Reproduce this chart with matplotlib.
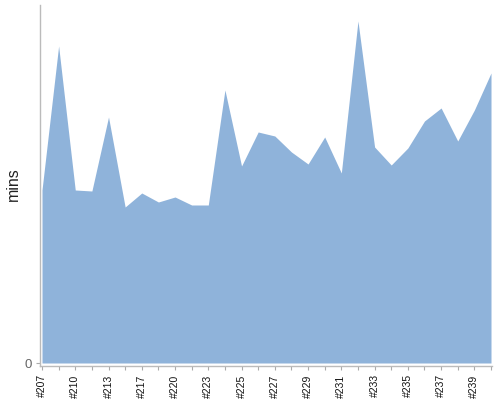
import matplotlib
matplotlib.use("Agg")
import matplotlib.pyplot as plt

categories = ["#207", "#208", "#210", "#212", "#213", "#215", "#217", "#218",
              "#220", "#221", "#223", "#224", "#225", "#226", "#227", "#228",
              "#229", "#230", "#231", "#232", "#233", "#234", "#235", "#236",
              "#237", "#238", "#239", "#240"]
mins = [17.3, 31.7, 17.3, 17.2, 24.6, 15.6, 17.0, 16.1, 16.6, 15.8, 15.8, 27.3,
        19.7, 23.1, 22.7, 21.1, 19.9, 22.6, 19.0, 34.2, 21.6, 19.8, 21.5, 24.2,
        25.5, 22.2, 25.3, 29.0]

plt.rcParams['font.family'] = ['Liberation Sans', 'DejaVu Sans']

fig = plt.figure(figsize=(5, 4), dpi=100)
ax = fig.add_axes([0.08, 0.085, 0.904, 0.9025])

x = list(range(len(categories)))
ax.fill_between(x, mins, 0, color="#8fb3da", linewidth=0)

ax.set_xlim(-0.12, 27.06)
ax.set_ylim(-0.3, 35.8)

ax.set_xticks(x)
ax.set_xticklabels([c if i % 2 == 0 else "" for i, c in enumerate(categories)],
                   rotation=90, fontsize=7.5, color="#111111")
ax.set_yticks([0])
ax.set_yticklabels(["0"], fontsize=9.5, color="#666666")
ax.tick_params(axis="both", length=3, width=0.8, color="#aaaaaa", pad=3)

for s in ["top", "right"]:
    ax.spines[s].set_visible(False)
for s in ["left", "bottom"]:
    ax.spines[s].set_color("#bbbbbb")
    ax.spines[s].set_linewidth(1)

ax.set_ylabel("mins", fontsize=11.5, color="#222222")
ax.yaxis.set_label_coords(-0.042, 0.504)

fig.savefig("out.png", dpi=100)
